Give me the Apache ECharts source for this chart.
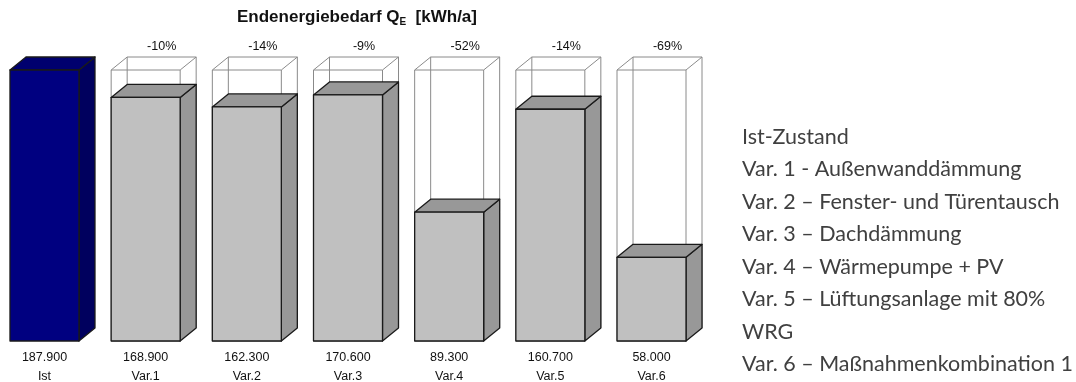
<!DOCTYPE html>
<html>
<head>
<meta charset="utf-8">
<script src="https://cdn.jsdelivr.net/npm/echarts@6/dist/echarts.min.js"></script>
<style>
    html, body { margin: 0; padding: 0; background: #fff; }
    #chart { width: 1076px; height: 382px; }
</style>
</head>
<body>
<div id="chart"></div>
<script>
    // Daten
    const categories = ['Ist', 'Var.1', 'Var.2', 'Var.3', 'Var.4', 'Var.5', 'Var.6']
    const values = [187.9, 168.9, 162.3, 170.6, 89.3, 160.7, 58.0]
    const percentLabels = ['', '-10%', '-14%', '-9%', '-52%', '-14%', '-69%']
    const legendLines = [
        'Ist-Zustand',
        'Var. 1 - Außenwanddämmung',
        'Var. 2 – Fenster- und Türentausch',
        'Var. 3 – Dachdämmung',
        'Var. 4 – Wärmepumpe + PV',
        'Var. 5 – Lüftungsanlage mit 80%',
        'WRG',
        'Var. 6 – Maßnahmenkombination 1'
    ]

    const W = 69      // Breite Vorderseite
    const DX = 16     // Tiefe x
    const DY = 13     // Tiefe y
    const labelFont = { fontFamily: 'Liberation Sans, Arial', fontSize: 12.5, fill: '#111' }

    // Farben: Ist dunkelblau, Varianten grau
    const colorsIst = { front: '#000080', top: '#00006e', side: '#00005e' }
    const colorsVar = { front: '#c0c0c0', top: '#989898', side: '#989898' }

    function renderItem(params, api) {
        const i = api.value(0)
        const v = api.value(1)
        const base = api.coord([i, 0])
        const top = api.coord([i, v])
        const ref = api.coord([i, values[0]])
        const x0 = base[0] - (W + DX) / 2
        const x1 = x0 + W
        const y0 = base[1]
        const yt = top[1]
        const ry = ref[1]
        const c = i === 0 ? colorsIst : colorsVar
        const children = []

        // Drahtgitter = Ist-Niveau
        if (i > 0) {
            const wire = { stroke: '#8a8a8a', lineWidth: 1, fill: null }
            children.push({ type: 'rect', shape: { x: x0, y: ry, width: W, height: y0 - ry }, style: wire })
            children.push({ type: 'polyline', shape: { points: [[x0, ry], [x0 + DX, ry - DY], [x1 + DX, ry - DY], [x1, ry]] }, style: wire })
            children.push({ type: 'line', shape: { x1: x0 + DX, y1: ry - DY, x2: x0 + DX, y2: y0 - DY }, style: wire })
            children.push({ type: 'line', shape: { x1: x1 + DX, y1: ry - DY, x2: x1 + DX, y2: y0 - DY }, style: wire })
            children.push({
                type: 'text', x: x0 + DX + W / 2, y: ry - 23,
                style: Object.assign({ text: percentLabels[i], align: 'center', verticalAlign: 'middle' }, labelFont)
            })
        }

        const edge = { stroke: '#1a1a1a', lineWidth: 1.3, lineJoin: 'round' }
        // Seite
        children.push({ type: 'polygon', shape: { points: [[x1, yt], [x1 + DX, yt - DY], [x1 + DX, y0 - DY], [x1, y0]] }, style: Object.assign({ fill: c.side }, edge) })
        // Deckel
        children.push({ type: 'polygon', shape: { points: [[x0, yt], [x0 + DX, yt - DY], [x1 + DX, yt - DY], [x1, yt]] }, style: Object.assign({ fill: c.top }, edge) })
        // Vorderseite
        children.push({ type: 'rect', shape: { x: x0, y: yt, width: W, height: y0 - yt }, style: Object.assign({ fill: c.front }, edge) })

        // Wert + Kategorie
        children.push({
            type: 'text', x: x0 + W / 2, y: y0 + 17,
            style: Object.assign({ text: v.toFixed(3), align: 'center', verticalAlign: 'middle' }, labelFont)
        })
        children.push({
            type: 'text', x: x0 + W / 2, y: y0 + 36,
            style: Object.assign({ text: categories[i], align: 'center', verticalAlign: 'middle' }, labelFont)
        })
        return { type: 'group', children: children }
    }

    const chart = echarts.init(document.getElementById('chart'), null, { renderer: 'canvas' })

    const graphics = [{
        type: 'text', x: 357, y: 17,
        style: {
            text: '{b|Endenergiebedarf Q}{s|E}{b|  [kWh/a]}',
            align: 'center', verticalAlign: 'middle',
            rich: {
                b: { fontFamily: 'Liberation Sans, Arial', fontWeight: 'bold', fontSize: 17, lineHeight: 20, fill: '#111' },
                s: { fontFamily: 'Liberation Sans, Arial', fontWeight: 'bold', fontSize: 10, lineHeight: 14, verticalAlign: 'bottom', fill: '#111' }
            }
        }
    }]
    legendLines.forEach((t, k) => {
        graphics.push({
            type: 'text', x: 742, y: 137 + k * 32.5,
            style: { text: t, fontFamily: 'Lato', fontSize: 21.5, fill: '#404040', verticalAlign: 'middle' }
        })
    })

    chart.setOption({
        animation: false,
        grid: { left: 1.9, width: 708.2, top: 70, bottom: 41 },
        xAxis: { type: 'category', data: categories, show: false },
        yAxis: { type: 'value', min: 0, max: values[0], show: false },
        graphic: graphics,
        series: [{
            type: 'custom',
            renderItem: renderItem,
            clip: false,
            data: values.map((v, i) => [i, v])
        }]
    })
</script>
</body>
</html>
